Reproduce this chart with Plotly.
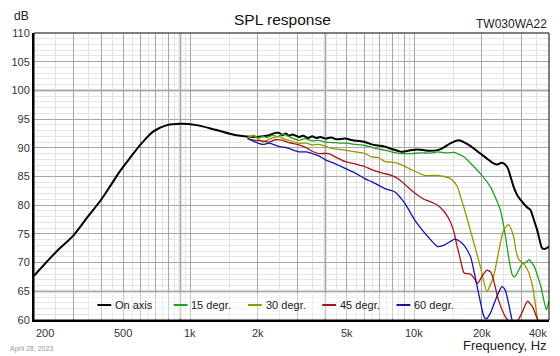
import math
import plotly.graph_objects as go

# ---------------- data ----------------
on_f = [200, 224, 256, 301, 348, 398, 441, 488, 541, 609, 686, 786, 900, 1066, 1307, 1603, 1966,
        2100, 2250, 2400, 2494, 2580, 2670, 2760, 2850, 3055, 3200, 3350, 3500, 3650, 3800,
        4005, 4250, 4500, 4917, 5300, 5700, 6035, 6450, 6905, 7390, 7910, 8400, 8760, 9400,
        10390, 11500, 12720, 13600, 14560, 15840, 16800, 17850, 19740, 21000, 22600, 23500,
        24650, 25970, 26900, 27800, 29000, 30800, 32000, 33000, 34200, 35400, 36400, 37300,
        38500, 40000]
on_db = [67.7, 69.8, 72.2, 74.8, 78.0, 80.9, 83.5, 86.1, 88.4, 90.9, 92.9, 93.95, 94.2, 93.95, 93.1, 92.2, 91.9,
         92.0, 92.2, 92.6, 92.6, 92.2, 92.5, 92.1, 92.3, 91.9, 92.1, 91.7, 92.0, 91.7, 91.9,
         91.6, 91.8, 91.5, 91.6, 91.3, 91.2, 91.0, 90.6, 90.4, 90.2, 89.8, 89.5, 89.3, 89.5,
         89.7, 89.5, 89.6, 90.1, 90.8, 91.3, 90.9, 90.3, 89.0, 88.2, 87.3, 87.1,
         87.4, 86.7, 85.0, 83.2, 81.6, 80.3, 79.6, 79.2, 77.5, 75.7, 73.8, 72.5,
         72.4, 72.8]

d15_f = [1800, 1900, 2000, 2104, 2200, 2330, 2450, 2580, 2670, 2800, 3055, 3250, 3500, 3750,
         4005, 4400, 4917, 5450, 6035, 6450, 6905, 7390, 7910, 8760, 9700, 10760, 12000, 12720,
         14000, 15000, 15600, 16700, 17850, 19740, 21890, 24230, 25200, 25970, 26800, 27400,
         28000, 28880, 30470, 31500, 32680, 33500, 34400, 35500, 36800, 38000, 38960, 40000]
d15_db = [91.8, 92.1, 91.7, 92.0, 91.8, 92.2, 91.9, 92.4, 92.2, 91.8, 91.3, 91.6, 91.2, 91.3,
          91.0, 90.9, 90.8, 90.6, 90.4, 90.1, 89.8, 89.6, 89.3, 89.0, 89.0, 89.1, 89.1, 89.3,
          89.1, 89.2, 89.0, 88.4, 87.3, 85.5, 83.2, 79.2, 76.0, 72.8, 69.5, 67.9,
          67.5, 68.2, 69.9, 70.0, 70.5, 70.0, 69.3, 67.8, 65.8, 63.3, 61.8, 63.3]

d30_f = [1800, 1930, 2000, 2104, 2250, 2400, 2494, 2600, 2760, 3055, 3300, 3500, 3750, 4290,
         4917, 5450, 6035, 6450, 6905, 7390, 7910, 8470, 9700, 11110, 12720, 13600, 14560,
         15100, 15600, 16100, 16700, 17850, 19740, 21120, 22600, 24000, 25100, 26410, 27800,
         28500, 29340, 30500, 32130, 33800, 35400, 36000]
d30_db = [91.7, 92.2, 91.6, 91.0, 91.5, 91.9, 92.0, 91.6, 91.3, 90.8, 90.8, 90.5, 90.6, 89.9,
          89.6, 89.3, 89.0, 88.4, 88.3, 87.6, 87.5, 87.3, 86.2, 85.2, 85.2, 85.0, 84.6,
          84.0, 83.2, 81.5, 79.5, 75.5, 69.3, 65.0, 67.6, 72.5, 75.7, 76.6, 74.5,
          72.0, 70.5, 70.0, 68.7, 65.8, 60.6, 59.0]

d45_f = [1800, 1950, 2104, 2250, 2400, 2580, 2760, 3055, 3300, 3500, 3750, 4150, 4500, 4917,
         5450, 6035, 6450, 6905, 7390, 7910, 8470, 9100, 9700, 10400, 11110, 12000, 12720,
         13400, 14100, 14600, 15110, 15500, 15840, 16300, 16700, 17850, 18500, 19200, 20000,
         21120, 22000, 22600, 23780, 25500, 26500, 27800, 29000, 30470, 31300, 32130, 33000,
         33800, 35000, 36000]
d45_db = [91.6, 91.3, 91.2, 91.0, 91.4, 91.3, 90.9, 90.5, 90.0, 89.4, 89.0, 89.0, 88.3, 87.6,
          87.2, 86.7, 86.2, 85.8, 85.5, 85.2, 84.6, 83.6, 82.6, 81.7, 81.0, 80.5, 80.0,
          79.2, 78.0, 76.8, 75.1, 73.0, 71.6, 69.5, 68.2, 68.0, 67.3, 66.4, 67.5,
          68.7, 68.3, 67.0, 63.5, 60.6, 59.8, 59.5, 59.9, 61.5, 62.6, 63.3, 62.8,
          62.3, 60.8, 59.5]

d60_f = [1800, 1950, 2104, 2250, 2494, 2700, 3055, 3300, 3500, 3750, 4005, 4400, 4917, 5450,
         6035, 6450, 6905, 7390, 8200, 9080, 10050, 10800, 11520, 12720, 13500, 14100, 15200,
         16130, 16700, 17850, 18600, 19510, 20500, 21000, 21890, 23400, 24650, 25500, 25970,
         27000, 27500]
d60_db = [91.6, 91.0, 90.6, 90.8, 90.2, 90.0, 89.3, 89.3, 89.0, 88.6, 87.9, 87.3, 86.4, 85.6,
          84.6, 84.1, 83.5, 82.9, 82.3, 80.3, 77.4, 75.8, 74.5, 72.8, 73.0, 73.4, 74.1,
          73.6, 73.0, 71.0, 68.0, 64.1, 60.6, 60.2, 61.2, 64.1, 65.8, 65.2, 64.1,
          61.0, 59.5]

series_names = ["On axis", "15 degr.", "30 degr.", "45 degr.", "60 degr."]
series_colors = ["#000000", "#22a022", "#969600", "#aa1414", "#1414aa"]

x_label_vals = [200, 500, 1000, 2000, 5000, 10000, 20000, 40000]
x_label_text = ["200", "500", "1k", "2k", "5k", "10k", "20k", "40k"]
y_tick_vals = list(range(60, 111, 5))

# ---------------- figure ----------------
FONT = "Arial, Liberation Sans, sans-serif"
W, H = 560, 356
ML, MR, MT, MB = 29, 11, 33, 36
PW, PH = W - ML - MR, H - MT - MB


def px_x(p):
    return (p - ML) / PW


def px_y(p):
    return (H - MB - p) / PH


fig = go.Figure()
data = [(on_f, on_db), (d15_f, d15_db), (d30_f, d30_db), (d45_f, d45_db), (d60_f, d60_db)]
for i, ((fx, fy), name, col) in enumerate(zip(data, series_names, series_colors)):
    fig.add_trace(go.Scatter(x=fx, y=fy, mode="lines", name=name, showlegend=False,
                             line=dict(color=col, width=2 if i == 0 else 1.3,
                                       shape="spline", smoothing=1.0 if i == 0 else 0.6)))

major_x = []
minor_x = []
for dec in [100, 1000, 10000]:
    for m in range(1, 10):
        v = m * dec
        if 200 <= v <= 40000:
            major_x.append(v)
        vm = (m + 0.5) * dec
        if 200 <= vm <= 40000:
            minor_x.append(vm)

fig.update_xaxes(type="log", range=[math.log10(200), math.log10(40000)],
                 tickvals=major_x, showticklabels=False, ticks="",
                 showgrid=True, gridcolor="#a6a6a6", gridwidth=1,
                 minor=dict(tickvals=minor_x, showgrid=True, gridcolor="#e2e2e2", gridwidth=1, ticks=""),
                 showline=True, linecolor="black", linewidth=2, zeroline=False)
fig.update_yaxes(range=[60, 110], tickvals=y_tick_vals, ticks="",
                 tickfont=dict(family=FONT, size=11, color="#333333"),
                 showgrid=True, gridcolor="#a6a6a6", gridwidth=1,
                 minor=dict(dtick=1, showgrid=True, gridcolor="#e6e6e6", gridwidth=1, ticks=""),
                 showline=True, linecolor="black", linewidth=2, zeroline=False)

shapes = [
    dict(type="rect", xref="x domain", yref="y domain", x0=0, x1=1, y0=0, y1=1,
         line=dict(color="black", width=1), layer="above"),
]
for yv in [100, 65]:
    shapes.append(dict(type="line", xref="x domain", yref="y", x0=0, x1=1, y0=yv, y1=yv,
                       line=dict(color="#dadada", width=3), layer="below"))
for xv in [900, 4000]:
    shapes.append(dict(type="line", xref="x", yref="y domain", x0=xv, x1=xv, y0=0, y1=1,
                       line=dict(color="#dadada", width=3), layer="below"))

annotations = []
for v, t in zip(x_label_vals, x_label_text):
    anchor = "center"
    if v == x_label_vals[0]:
        anchor = "left"
    elif v == x_label_vals[-1]:
        anchor = "right"
    annotations.append(dict(x=math.log10(v), xref="x", y=0, yref="paper", yshift=-13,
                            text=t, showarrow=False, xanchor=anchor, yanchor="middle",
                            font=dict(family=FONT, size=11, color="#333333")))
annotations += [
    dict(x=px_x(280), xref="paper", y=1, yref="paper", yshift=14, text="SPL response",
         showarrow=False, xanchor="center", yanchor="middle",
         font=dict(family=FONT, size=15.5, color="#111111")),
    dict(x=0, xref="paper", y=1, yref="paper", xshift=-22, yshift=17, text="dB",
         showarrow=False, xanchor="left", yanchor="middle",
         font=dict(family=FONT, size=12, color="#222222")),
    dict(x=1, xref="paper", y=1, yref="paper", yshift=9, text="TW030WA22",
         showarrow=False, xanchor="right", yanchor="middle",
         font=dict(family=FONT, size=12, color="#222222")),
    dict(x=0, xref="paper", y=0, yref="paper", xshift=-26, yshift=-29, text="April 28, 2023",
         showarrow=False, xanchor="left", yanchor="middle",
         font=dict(family=FONT, size=7, color="#999999")),
    dict(x=1, xref="paper", y=0, yref="paper", yshift=-25, text="Frequency, Hz",
         showarrow=False, xanchor="right", yanchor="middle",
         font=dict(family=FONT, size=13, color="#222222")),
]

# legend drawn inside the plot: short line sample + label per series
legend_y_px = 305
legend_start_px = [93, 170, 245, 320, 395]
shapes.append(dict(type="rect", xref="paper", yref="paper",
                   x0=px_x(84), x1=px_x(462), y0=px_y(318), y1=px_y(293),
                   fillcolor="rgba(255,255,255,0.45)", line=dict(width=0), layer="above"))
for name, col, sx in zip(series_names, series_colors, legend_start_px):
    shapes.append(dict(type="line", xref="paper", yref="paper",
                       x0=px_x(sx), x1=px_x(sx + 14), y0=px_y(legend_y_px), y1=px_y(legend_y_px),
                       line=dict(color=col, width=2), layer="above"))
    annotations.append(dict(x=px_x(sx + 16), xref="paper", y=px_y(legend_y_px), yref="paper",
                            text=name, showarrow=False, xanchor="left", yanchor="middle",
                            font=dict(family=FONT, size=11, color="#222222")))

fig.update_layout(
    width=W, height=H,
    margin=dict(l=ML, r=MR, t=MT, b=MB),
    paper_bgcolor="white", plot_bgcolor="white",
    showlegend=False,
    shapes=shapes, annotations=annotations,
)

fig.write_html("out.html", config={"displayModeBar": False},
               post_script="document.body.style.margin='0';document.body.style.overflow='hidden';")
